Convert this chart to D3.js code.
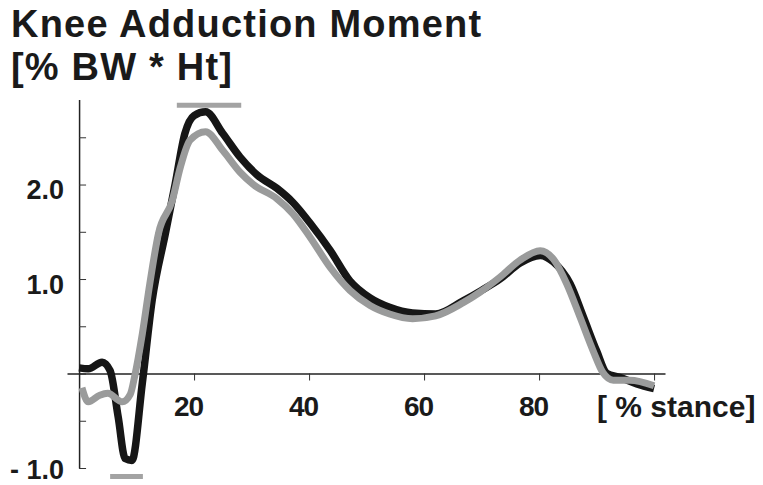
<!DOCTYPE html>
<html>
<head>
<meta charset="utf-8">
<script src="https://cdn.jsdelivr.net/npm/d3@7"></script>
<style>
  body { margin: 0; background: #fff; }
  text { font-family: "Liberation Sans", Arial, sans-serif; font-weight: bold; fill: #1a1a1a; }
</style>
</head>
<body>
<div id="chart"></div>
<script>
// % stance / moment pairs
const blackStance = [0, 1.6, 4, 5.4, 6.8, 8, 9.2, 11, 12.7, 15, 16.7, 18.4, 20, 22, 25, 28, 31, 34.4, 37.2, 40.2, 43.7, 47.1, 50.6, 54, 58, 62, 66.8, 70, 73.2, 76.7, 80.2, 82.5, 85.4, 87.7, 90, 91.8, 94, 97, 100];
const blackMoment = [0.06, 0.05, 0.12, 0.03, -0.46, -0.9, -0.92, -0.1, 0.77, 1.48, 2.0, 2.54, 2.73, 2.77, 2.54, 2.29, 2.1, 1.96, 1.81, 1.59, 1.3, 0.98, 0.8, 0.7, 0.64, 0.63, 0.77, 0.88, 1.0, 1.17, 1.25, 1.18, 0.95, 0.6, 0.24, 0.0, -0.04, -0.11, -0.16];

const grayStance = [0.5, 1.6, 3.6, 5, 7.5, 8.9, 9.7, 11, 12.3, 13.8, 16.2, 17.6, 19.3, 22, 25, 28, 30.3, 34.4, 37.2, 40.2, 43.7, 47.1, 50.6, 54, 58, 62, 66.8, 69.7, 73.2, 76.7, 80.2, 82.5, 84.8, 87.1, 89.4, 91.1, 92.9, 95.8, 100];
const grayMoment = [-0.15, -0.3, -0.23, -0.21, -0.3, -0.22, -0.02, 0.42, 0.95, 1.48, 1.83, 2.18, 2.47, 2.56, 2.36, 2.13, 2.0, 1.85, 1.69, 1.44, 1.12, 0.88, 0.72, 0.63, 0.58, 0.61, 0.75, 0.86, 1.02, 1.2, 1.3, 1.21, 0.95, 0.6, 0.24, 0.01, -0.07, -0.07, -0.13];

// significance bars: [start, end, level]
const sigBars = [[17.0, 28.2, 2.84], [5.4, 11.1, -1.09]];

const xTicks = [20, 40, 60, 80, 100];
const xLabels = ["20", "40", "60", "80", ""];
const yTicks = [-1, -0.5, 0, 0.5, 1, 1.5, 2, 2.5];
const yLabels = { "-1": "- 1.0", "1": "1.0", "2": "2.0" };

let svg = d3
  .select("#chart")
  .append("svg")
  .attr("width", 763)
  .attr("height", 485);

var x = d3.scaleLinear().domain([-2.1, 101.9]).range([67, 665]);
var y = d3.scaleLinear().domain([-1, 2.9]).range([468, 99.5]);

svg
  .append("text")
  .attr("x", 11)
  .attr("y", 37)
  .style("font-size", "38px")
  .style("letter-spacing", "1.2px")
  .text("Knee Adduction Moment");
svg
  .append("text")
  .attr("x", 11)
  .attr("y", 79.5)
  .style("font-size", "38px")
  .style("letter-spacing", "1.2px")
  .text("[% BW * Ht]");

// y axis, ticks pointing inward
let yAxis = svg
  .append("g")
  .attr("transform", "translate(" + x(0) + ",0)")
  .call(
    d3.axisLeft(y)
      .tickValues(yTicks)
      .tickSizeInner(-7)
      .tickSizeOuter(0)
      .tickPadding(15)
      .tickFormat((d) => yLabels[d] || "")
  );
yAxis.select(".domain").attr("stroke", "#222").attr("stroke-width", 1.5);
yAxis.selectAll(".tick line").attr("stroke", "#333");
yAxis
  .selectAll(".tick text")
  .attr("dy", (d) => (d < 0 ? "0.4em" : "0.52em"))
  .style("font-size", "27px")
  .attr("fill", "#1a1a1a");

let xAxis = svg
  .append("g")
  .attr("transform", "translate(0," + y(0) + ")")
  .call(
    d3.axisBottom(x)
      .tickValues(xTicks)
      .tickSizeInner(7)
      .tickSizeOuter(0)
      .tickPadding(16)
      .tickFormat((d, i) => xLabels[i])
  );
xAxis.select(".domain").attr("stroke", "#222").attr("stroke-width", 1.5);
xAxis.selectAll(".tick line").attr("stroke", "#333");
xAxis
  .selectAll(".tick text")
  .attr("dx", -6)
  .style("font-size", "28px")
  .style("letter-spacing", "-1px")
  .attr("fill", "#1a1a1a");

svg
  .append("text")
  .attr("x", 597)
  .attr("y", 417)
  .style("font-size", "30px")
  .text("[ % stance]");

var line = d3
  .line()
  .x((d) => x(d[0]))
  .y((d) => y(d[1]))
  .curve(d3.curveMonotoneX);

let blackData = d3.zip(blackStance, blackMoment);
let grayData = d3.zip(grayStance, grayMoment);

svg
  .append("path")
  .datum(blackData)
  .attr("fill", "none")
  .attr("stroke", "#161616")
  .attr("stroke-width", 7.5)
  .attr("stroke-linejoin", "round")
  .attr("d", line);
svg
  .append("path")
  .datum(grayData)
  .attr("fill", "none")
  .attr("stroke", "#9a9b9b")
  .attr("stroke-width", 7)
  .attr("stroke-linejoin", "round")
  .attr("d", line);

svg
  .selectAll(".sig")
  .data(sigBars)
  .enter()
  .append("line")
  .attr("class", "sig")
  .attr("x1", (d) => x(d[0]))
  .attr("x2", (d) => x(d[1]))
  .attr("y1", (d) => y(d[2]))
  .attr("y2", (d) => y(d[2]))
  .attr("stroke", "#a3a3a3")
  .attr("stroke-width", 5);
</script>
</body>
</html>
